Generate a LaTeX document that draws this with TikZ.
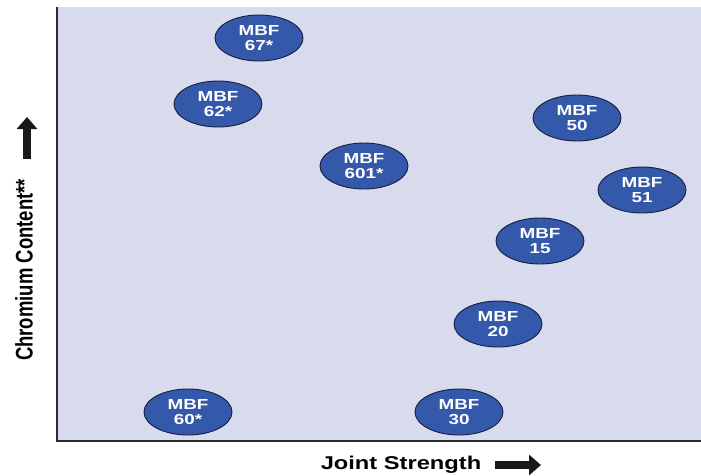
\documentclass[tikz,border=0pt]{standalone}
\usepackage{fontspec}
\setmainfont{Liberation Sans}
\newfontfamily\widesans[FakeStretch=1.3]{Liberation Sans}
\usetikzlibrary{arrows.meta,positioning,shapes.geometric}
\definecolor{plotbg}{RGB}{216,219,238}
\definecolor{alloyblue}{RGB}{52,88,170}
\definecolor{rimnavy}{RGB}{25,30,60}
\definecolor{axisgray}{RGB}{45,45,48}

\begin{document}
\begin{tikzpicture}[
  x=1pt, y=-1pt,
  alloy/.style={ellipse, draw=rimnavy, line width=0.9pt, fill=alloyblue,
    minimum width=88pt, minimum height=46pt, inner sep=0pt, text=white,
    align=center, font=\widesans\bfseries\fontsize{14.5}{15.5}\selectfont},
  axislabel/.style={font=\bfseries\fontsize{18.5}{20}\selectfont},
  bigarr/.style={line width=8pt, -{Triangle[width=20pt,length=12pt]}, black!90}
]
  \useasboundingbox (0,0) rectangle (701,475);

  % Plot area
  \fill[plotbg] (57,7) rectangle (701,441);
  \draw[axisgray, line width=2.5pt] (57,7) -- (57,441) -- (701,441);

  % Alloys
  \node[alloy] (mbf67) at (259,38) {MBF\\67*};
  \node[alloy] (mbf62) at (218,104) {MBF\\62*};
  \node[alloy] (mbf601) at (364,166) {MBF\\601*};
  \node[alloy] (mbf50) at (577,118) {MBF\\50};
  \node[alloy] (mbf51) at (642,190) {MBF\\51};
  \node[alloy] (mbf15) at (540,241) {MBF\\15};
  \node[alloy] (mbf20) at (498,324) {MBF\\20};
  \node[alloy] (mbf60) at (188,412) {MBF\\60*};
  \node[alloy] (mbf30) at (459,412) {MBF\\30};

  % Axis labels
  \node[axislabel] (xlabel) at (401,465) {\scalebox{1.28}[1]{Joint Strength}};
  \node[axislabel, rotate=90] (ylabel) at (24,270) {\scalebox{1}[1.3]{Chromium Content**}};

  % Arrows
  \coordinate (xtip) at (541,465);
  \coordinate (ytip) at (27,117);
  \draw[bigarr] ([xshift=10pt]xlabel.east |- xtip) -- (xtip);
  \draw[bigarr] (ytip |- ylabel.east) ++(0,-17) -- (ytip);
\end{tikzpicture}
\end{document}
